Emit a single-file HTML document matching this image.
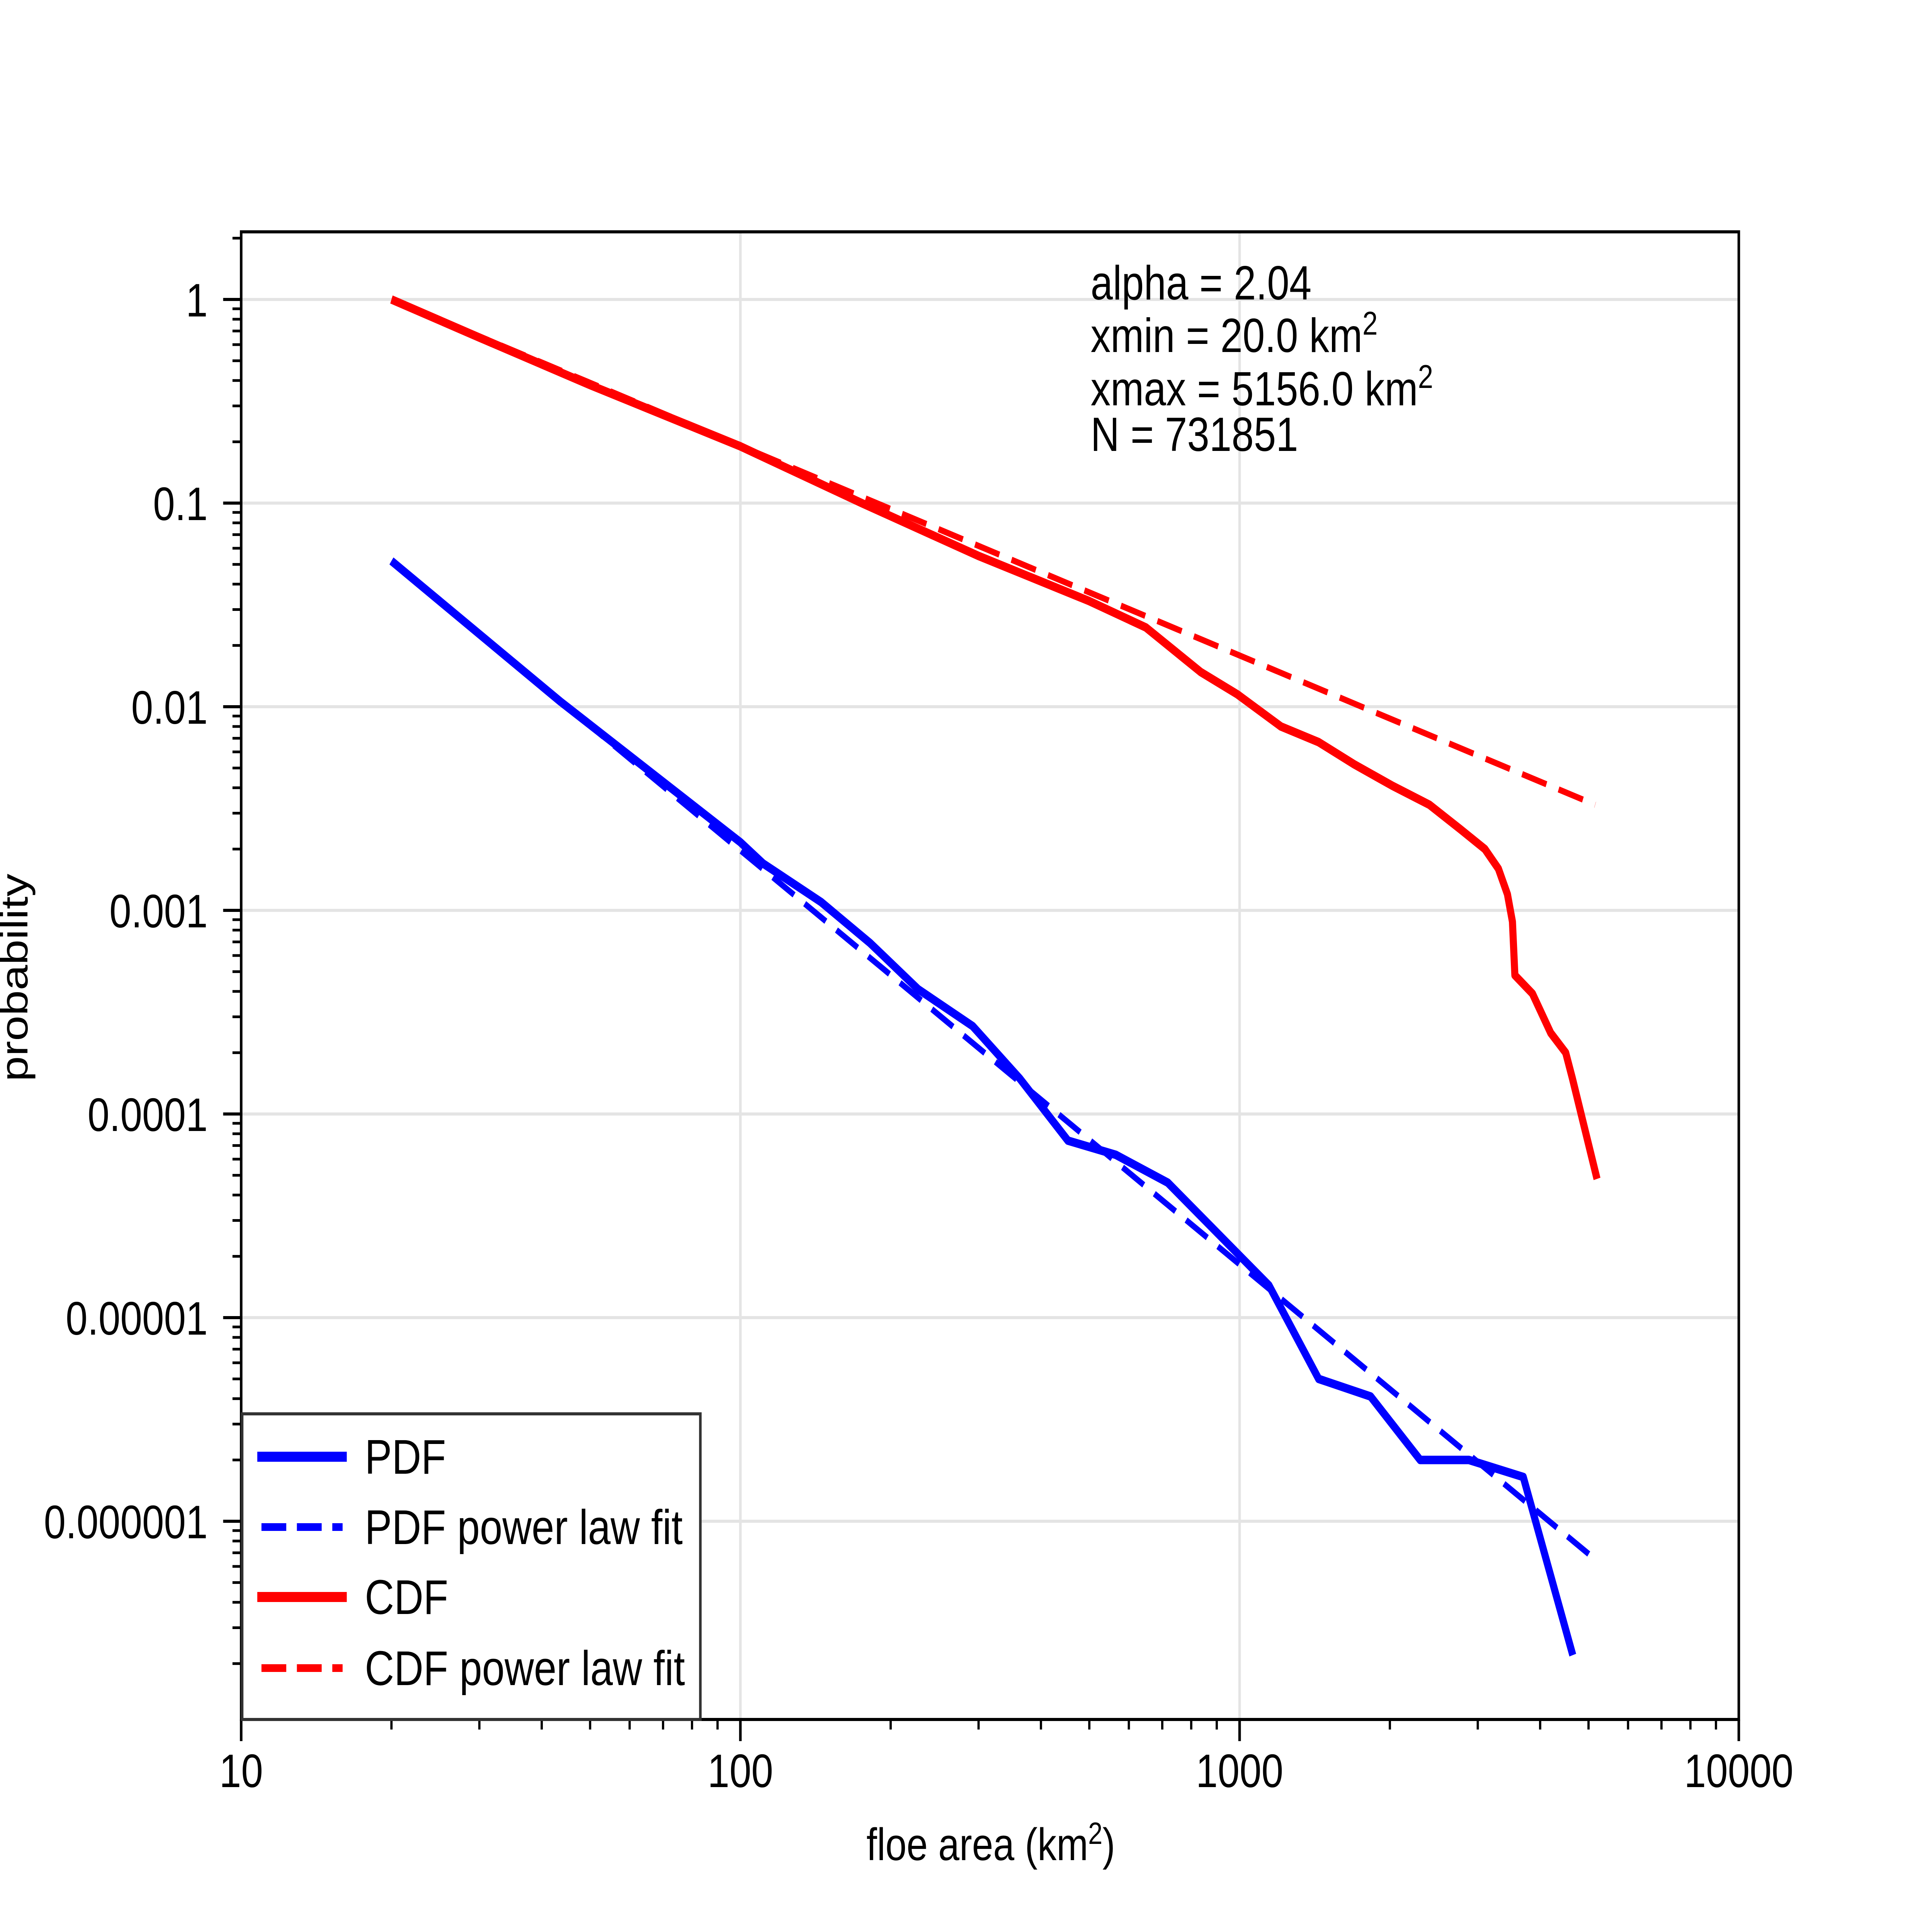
<!DOCTYPE html>
<html><head><meta charset="utf-8"><style>html,body{margin:0;padding:0;background:#fff;overflow:hidden;width:100%;height:100%}svg{display:block;position:absolute;left:0;top:0}text{font-family:"Liberation Sans",sans-serif;fill:#000}</style></head>
<body>
<svg id="chart" xmlns="http://www.w3.org/2000/svg" style="width:100vw;height:100vh" viewBox="0 0 6000 5000" preserveAspectRatio="none">
<rect width="6000" height="5000" fill="#fff"/>
<g id="grid"></g>
<g id="series"></g>
<rect x="749" y="600" width="4651" height="3850" fill="none" stroke="#000" stroke-width="8"/>
<g id="ticks"></g>
<g font-size="124">
<text x="3387" y="775">alpha = 2.04</text>
<text x="3387" y="911">xmin = 20.0 km<tspan dy="-45" font-size="85">2</tspan></text>
<text x="3387" y="1049">xmax = 5156.0 km<tspan dy="-45" font-size="85">2</tspan></text>
<text x="3387" y="1167">N = 731851</text>
</g>
<text x="3077" y="4814" text-anchor="middle" font-size="118">floe area (km<tspan dy="-42" font-size="80">2</tspan><tspan dy="42">)</tspan></text>
<text transform="translate(85,2530) rotate(-90)" text-anchor="middle" font-size="118">probability</text>
<g>
<rect x="752" y="3659" width="1423" height="791" fill="#fff" stroke="#333" stroke-width="8"/>
<line x1="799" y1="3770" x2="1077" y2="3770" stroke="#0000ff" stroke-width="26"/>
<text x="1133" y="3814" font-size="126">PDF</text>
<line x1="812" y1="3952" x2="1064" y2="3952" stroke="#0000ff" stroke-width="20" stroke-dasharray="77 33"/>
<text x="1133" y="3996" font-size="126">PDF power law fit</text>
<line x1="799" y1="4133" x2="1077" y2="4133" stroke="#ff0000" stroke-width="26"/>
<text x="1133" y="4177" font-size="126">CDF</text>
<line x1="812" y1="4317" x2="1064" y2="4317" stroke="#ff0000" stroke-width="20" stroke-dasharray="77 33"/>
<text x="1133" y="4361" font-size="126">CDF power law fit</text>
</g>
</svg>
<script>
const cdfX = [20,30,50,100,175,300,500,649,836,990,1210,1440,1700,2020,2400,2770,3100,3300,3440,3520,3560,3860,4200,4500,4640,5200];
const cdfY = [1.0,0.65,0.38,0.19,0.1,0.055,0.033,0.0245,0.0148,0.0115,0.008,0.0067,0.0052,0.0041,0.0033,0.0025,0.002,0.0016,0.0012,0.00088,0.00048,0.00039,0.00025,0.0002,0.00015,0.000048];
const cdfFitX = [20,5156];
const cdfFitY = [1.0,0.0033];
const pdfX = [20,43.6,100,111,145,182,227,292,363,453,565,718,1145,1440,1830,2300,2880,3700,4650];
const pdfY = [0.052,0.0106,0.00216,0.0017,0.0011,0.00069,0.00041,0.00027,0.000149,0.000074,0.000063,0.000046,0.0000144,0.000005,0.0000041,0.000002,0.000002,0.00000165,0.00000022];
const pdfFitX = [20,5156];
const pdfFitY = [0.052,0.00000065];
const xTicks = [10,100,1000,10000];
const xTickLabels = ["10","100","1000","10000"];
const yTicks = [1,0.1,0.01,0.001,0.0001,0.00001,0.000001];
const yTickLabels = ["1","0.1","0.01","0.001","0.0001","0.00001","0.000001"];

const NS="http://www.w3.org/2000/svg";
const L=749,R=5400,T=600,B=4450,Y0=775,DEC=527;
function sx(v){return L+(Math.log10(v)-1)*(R-L)/3;}
function sy(v){return Y0-Math.log10(v)*DEC;}
function mk(tag,parent){const e=document.createElementNS(NS,tag);parent.appendChild(e);return e;}
const grid=document.getElementById('grid'),ticks=document.getElementById('ticks'),series=document.getElementById('series');

xTicks.forEach((v,i)=>{
  const x=sx(v);
  if(i>0&&i<xTicks.length-1){const g=mk('line',grid);g.setAttribute('x1',x);g.setAttribute('x2',x);g.setAttribute('y1',T);g.setAttribute('y2',B);g.setAttribute('stroke','#e4e4e4');g.setAttribute('stroke-width','8');
  
  }
  const t=mk('line',ticks);t.setAttribute('x1',x);t.setAttribute('x2',x);t.setAttribute('y1',B);t.setAttribute('y2',B+56);t.setAttribute('stroke','#000');t.setAttribute('stroke-width','8');
  
  
  const tx=mk('text',ticks);tx.setAttribute('x',x);tx.setAttribute('y',4625);tx.setAttribute('text-anchor','middle');tx.setAttribute('font-size','122');tx.textContent=xTickLabels[i];
  
  
  if(i<xTicks.length-1){for(let k=2;k<10;k++){const mx=sx(v*k);const m=mk('line',ticks);m.setAttribute('x1',mx);m.setAttribute('x2',mx);m.setAttribute('y1',B);m.setAttribute('y2',B+26);m.setAttribute('stroke','#000');m.setAttribute('stroke-width','7');
  
  }}
});
yTicks.forEach((v,i)=>{
  const y=sy(v);
  const g=mk('line',grid);g.setAttribute('x1',L);g.setAttribute('x2',R);g.setAttribute('y1',y);g.setAttribute('y2',y);g.setAttribute('stroke','#e4e4e4');g.setAttribute('stroke-width','8');
  
  
  const t=mk('line',ticks);t.setAttribute('x1',L-56);t.setAttribute('x2',L);t.setAttribute('y1',y);t.setAttribute('y2',y);t.setAttribute('stroke','#000');t.setAttribute('stroke-width','8');
  
  
  const tx=mk('text',ticks);tx.setAttribute('x',645);tx.setAttribute('y',y+44);tx.setAttribute('text-anchor','end');tx.setAttribute('font-size','122');tx.textContent=yTickLabels[i];
  
  
});
for(let e=-7;e<=0;e++){for(let k=1;k<10;k++){const v=k*Math.pow(10,e);if(k===1&&e>=-6)continue;const y=sy(v);if(y<T||y>B)continue;
  const m=mk('line',ticks);m.setAttribute('x1',L-27);m.setAttribute('x2',L);m.setAttribute('y1',y);m.setAttribute('y2',y);m.setAttribute('stroke','#000');m.setAttribute('stroke-width','7');
  
  }}
function line(xs,ys,color,w,dash,name){
  const p=mk('polyline',series);
  p.setAttribute('points',xs.map((x,i)=>sx(x).toFixed(1)+','+sy(ys[i]).toFixed(1)).join(' '));
  p.setAttribute('fill','none');p.setAttribute('stroke',color);p.setAttribute('stroke-width',w);p.setAttribute('stroke-linejoin','round');
  if(dash)p.setAttribute('stroke-dasharray',dash);
  
  
}
line(cdfX,cdfY,'#ff0000',22,null,'cdf-line');
line(cdfFitX,cdfFitY,'#ff0000',16,'80 40','cdf-fit-line');
line(pdfX,pdfY,'#0000ff',22,null,'pdf-line');
line(pdfFitX,pdfFitY,'#0000ff',16,'80 40','pdf-fit-line');
</script>
</body></html>
